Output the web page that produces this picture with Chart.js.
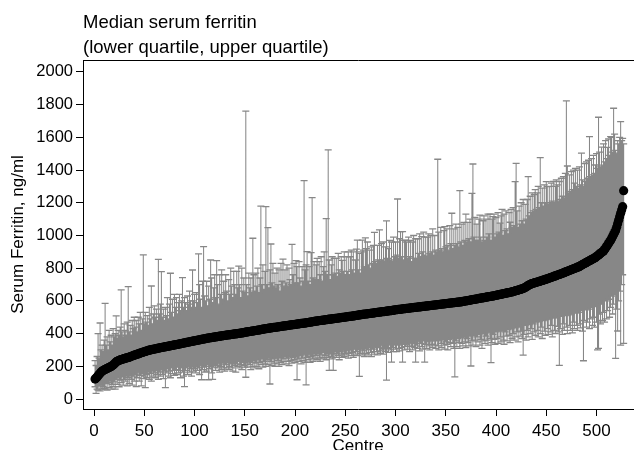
<!DOCTYPE html>
<html><head><meta charset="utf-8">
<script src="https://cdn.jsdelivr.net/npm/chart.js@4.4.1/dist/chart.umd.min.js"></script>
<style>html,body{margin:0;padding:0;background:#fff;}#wrap{width:638px;height:450px;}</style>
</head><body><div id="wrap"><canvas id="c" width="638" height="450"></canvas></div>
<script>
const titleLines = ['Median serum ferritin', '(lower quartile, upper quartile)'];
const xTitle = 'Centre';
const yTitle = 'Serum Ferritin, ng/ml';
const xTickValues = [0, 50, 100, 150, 200, 250, 300, 350, 400, 450, 500];
const yTickValues = [0, 200, 400, 600, 800, 1000, 1200, 1400, 1600, 1800, 2000];

const median = [
122,128,135,142,150,158,165,170,174,178,
181,184,187,190,193,196,199,203,208,214,
221,227,231,234,237,239,241,243,245,247,
249,251,252,254,256,258,261,263,266,268,
270,272,274,276,279,281,283,285,287,289,
291,293,295,297,299,300,302,303,304,306,
307,308,310,311,312,314,315,316,317,318,
320,321,322,323,324,326,327,328,329,331,
332,333,334,335,337,338,339,341,342,343,
344,346,347,348,349,351,352,353,355,356,
357,358,360,361,362,363,365,366,367,368,
369,371,372,373,374,375,376,377,378,379,
380,381,382,383,384,385,386,387,388,389,
390,391,392,392,393,394,395,396,397,398,
398,399,400,401,402,403,404,405,406,408,
409,410,411,412,413,414,415,416,417,418,
419,420,421,422,423,424,426,427,428,429,
430,431,432,433,434,435,436,437,438,439,
439,440,441,442,443,444,445,446,447,447,
448,449,450,451,452,453,454,455,455,456,
457,458,459,460,461,462,463,463,464,465,
466,467,468,469,470,471,472,473,474,476,
476,477,478,479,480,481,481,482,483,484,
485,486,487,488,488,489,490,491,492,493,
494,494,495,496,497,498,499,500,500,501,
502,503,504,505,506,506,507,508,509,510,
511,512,513,514,516,516,517,518,519,520,
520,521,522,523,524,524,525,526,527,528,
529,530,530,531,532,533,534,535,535,536,
537,538,539,540,540,541,542,543,544,546,
546,547,548,548,549,550,551,552,552,553,
554,555,555,556,557,558,558,559,560,561,
561,562,563,564,564,565,566,567,567,568,
569,570,570,571,572,573,573,574,575,576,
576,577,578,579,579,580,581,582,582,583,
584,585,585,586,587,588,588,589,590,591,
591,592,593,594,594,595,597,598,599,600,
601,602,603,604,606,607,608,609,610,611,
612,613,615,616,617,618,619,620,621,622,
624,625,626,627,628,629,630,631,633,634,
635,637,638,639,641,642,643,645,646,647,
649,650,651,653,654,655,657,659,661,663,
664,666,668,670,672,674,676,679,682,686,
690,694,698,701,704,706,708,710,712,714,
715,717,719,721,723,725,727,729,731,733,
735,737,740,742,744,746,749,751,753,755,
758,760,762,764,766,769,771,774,776,779,
781,784,786,789,791,793,796,798,801,803,
806,808,811,815,818,822,825,828,832,835,
839,842,846,849,852,856,859,862,866,871,
876,881,886,891,896,901,905,914,924,933,
942,951,961,970,982,994,1006,1018,1030,1051,
1072,1093,1114,1136,1156,1176,1274
];

const upperQ = [
235,205,260,400,250,465,300,330,290,360,
585,330,380,300,420,350,390,330,430,380,
400,508,370,420,390,440,667,410,380,460,
420,390,470,687,410,450,390,480,430,500,
440,480,410,500,460,530,420,490,881,460,
530,470,510,450,560,490,691,460,520,570,
500,550,480,854,520,580,779,500,550,480,
560,510,620,490,580,769,530,610,500,640,
560,620,520,590,640,540,600,742,560,620,
590,540,630,580,660,600,560,789,600,640,
560,650,590,887,700,610,560,720,932,630,
600,720,570,690,610,850,740,590,680,760,
620,846,700,580,760,640,790,610,720,650,
760,660,600,730,640,800,690,620,780,700,
640,780,680,813,700,620,800,660,740,650,
1761,700,630,770,680,740,650,983,760,660,
770,690,800,650,740,1180,700,820,670,780,
1176,700,1048,680,790,948,710,830,690,770,
680,800,700,790,660,830,720,856,690,790,
710,820,690,800,730,700,946,760,830,710,
846,810,710,840,740,690,810,720,1335,790,
820,901,720,810,700,895,1231,740,840,730,
820,860,730,840,760,870,720,810,900,780,
1103,760,1523,850,730,820,870,760,860,770,
860,750,890,790,770,870,848,780,900,760,
870,780,900,760,870,910,790,900,770,850,
916,972,790,890,770,900,972,910,810,985,
920,960,820,910,800,930,830,940,1019,840,
830,940,850,1034,840,950,850,960,840,930,
1089,860,920,970,850,960,840,990,870,960,
880,1223,860,980,1023,870,1023,850,970,972,
960,860,990,870,970,840,960,1000,860,980,
860,980,890,1010,870,993,900,1020,880,990,
870,990,1010,890,1000,900,1040,880,1000,910,
900,1466,1020,910,1050,920,900,1030,1054,930,
1040,940,910,1060,950,1136,920,1040,940,1070,
950,1050,930,1274,960,1070,940,1080,970,1131,
960,1080,980,1100,960,1258,1437,990,1110,970,
1070,970,1100,1125,990,960,1090,1120,970,1100,
990,1130,1010,1131,970,1100,1115,1130,990,1110,
1010,1140,1020,1075,1120,1160,1000,1130,1030,1150,
1040,1010,1140,1081,1160,1050,1170,1060,1329,1441,
1150,1050,1180,1070,1200,1090,1220,1070,1190,1100,
1220,1360,1120,1240,1140,1260,1150,1250,1280,1160,
1260,1300,1170,1476,1200,1290,1180,1310,1200,1329,
1299,1190,1300,1200,1320,1210,1330,1200,1300,1340,
1310,1210,1330,1220,1350,1240,1360,1230,1380,1823,
1425,1260,1370,1270,1390,1280,1400,1320,1410,1300,
1400,1290,1420,1310,1503,1340,1300,1440,1330,1450,
1350,1460,1604,1360,1470,1370,1490,1380,1431,1500,
1410,1723,1510,1420,1540,1430,1560,1450,1580,1470,
1539,1590,1490,1604,1600,1510,1778,1620,1520,1503,
1580,1560,1600,1696,1580,1594,1560
];

const lowerQ = [
75,35,60,55,80,50,85,60,75,65,
60,95,55,100,70,110,60,90,75,105,
60,120,90,130,75,115,100,135,85,120,
110,140,80,130,95,145,120,85,140,110,
150,76,130,160,110,145,80,155,125,140,
70,150,130,165,120,155,110,170,140,160,
130,175,150,120,165,140,180,150,125,170,
70,160,185,140,170,130,190,155,175,145,
180,150,195,160,175,130,190,165,140,76,
175,190,150,200,165,185,140,195,170,185,
160,200,175,190,150,205,118,180,195,165,
200,170,210,118,185,200,160,120,195,210,
175,205,190,215,165,200,180,220,190,170,
210,190,225,180,200,215,190,170,220,205,
165,215,200,230,190,210,180,225,205,195,
133,220,195,230,210,180,225,200,235,190,
220,200,240,185,225,210,245,195,230,215,
200,240,210,250,92,230,205,245,220,200,
250,215,235,200,255,225,210,245,230,260,
215,250,230,205,260,235,220,255,240,225,
260,118,245,230,265,215,250,235,270,225,
86,255,240,270,225,260,245,230,275,250,
265,240,280,250,230,270,255,285,245,265,
240,275,255,175,280,260,245,175,270,290,
255,280,265,240,290,270,255,295,260,280,
270,295,250,280,300,265,285,255,305,275,
290,265,300,139,280,305,270,295,260,310,
280,300,270,315,285,260,305,290,275,320,
290,270,315,295,280,325,300,275,310,290,
116,310,285,330,300,226,315,290,335,305,
290,330,310,295,340,315,226,335,300,320,
340,305,330,290,345,320,300,340,315,226,
330,310,350,295,340,320,305,355,226,335,
310,350,325,300,355,335,315,360,330,310,
355,325,300,360,340,315,365,330,305,350,
335,300,365,345,320,370,340,310,135,355,
320,370,345,310,375,340,325,380,350,315,
370,345,325,385,202,355,330,390,360,320,
380,350,395,330,365,310,400,355,340,385,
360,330,405,370,223,345,395,365,335,410,
370,340,415,380,350,420,360,335,410,385,
355,425,390,345,430,370,400,360,435,380,
410,350,440,385,415,370,269,395,450,360,
420,380,455,400,430,365,460,410,390,470,
420,380,475,400,440,370,480,415,390,485,
430,395,490,410,450,380,495,420,400,500,
445,410,206,430,505,395,460,420,510,440,
400,515,450,420,520,405,470,430,525,450,
420,530,460,435,540,415,234,480,545,440,
470,550,430,490,560,450,500,440,565,470,
300,310,520,460,580,480,530,470,600,490,
540,610,500,560,630,520,580,640,249,550,
416,600,660,330,700,760,340
];

const FONT = "'Liberation Sans', Arial, Helvetica, sans-serif";
const GRAY = '#878787';

const centres = median.map((_, i) => i + 1);
const whiskerPts = [];
centres.forEach((c, i) => {
  whiskerPts.push({x: c, y: lowerQ[i]}, {x: c, y: upperQ[i]}, {x: c, y: null});
});
const capPts = [];
centres.forEach((c, i) => { capPts.push({x: c, y: lowerQ[i]}, {x: c, y: upperQ[i]}); });
const medPts = centres.map((c, i) => ({x: c, y: median[i]}));

new Chart(document.getElementById('c').getContext('2d'), {
  type: 'scatter',
  data: { datasets: [
    { label: 'IQR', data: whiskerPts, showLine: true, spanGaps: false, borderColor: GRAY, borderWidth: 1.05,
      pointRadius: 0, pointHoverRadius: 0, order: 3 },
    { label: 'caps', data: capPts, showLine: false, pointStyle: 'line', pointRadius: 3.5, pointHoverRadius: 3.5,
      pointBorderColor: GRAY, pointBorderWidth: 1.3, pointBackgroundColor: GRAY, order: 2 },
    { label: 'Median', data: medPts, showLine: false, pointStyle: 'circle', pointRadius: 4.6, pointHoverRadius: 4.6,
      pointBackgroundColor: '#000', pointBorderColor: '#000', pointBorderWidth: 0, order: 1 }
  ]},
  options: {
    responsive: false, animation: false, events: [],
    layout: { padding: 0 },
    plugins: {
      legend: { display: false }, tooltip: { enabled: false },
      title: { display: true, text: titleLines, align: 'start', fullSize: false, color: '#000',
        font: { family: FONT, size: 18.5, weight: 'normal', lineHeight: 25/18.5 }, padding: { top: 10, bottom: 0 } }
    },
    scales: {
      x: { type: 'linear', position: 'bottom', min: -11, max: 536.5,
        afterBuildTicks: s => { s.ticks = xTickValues.map(v => ({ value: v })); },
        afterFit: s => { s.height = 41; },
        ticks: { color: '#000', font: { family: FONT, size: 17 }, padding: 5, maxRotation: 0, autoSkip: false,
          callback: v => String(v) },
        grid: { drawOnChartArea: false, drawTicks: true, tickLength: 7, tickColor: '#000', tickWidth: 1 },
        border: { display: true, color: '#000', width: 1 },
        title: { display: true, text: xTitle, color: '#000', font: { family: FONT, size: 17, lineHeight: 0.47 }, padding: 0 } },
      x2: { type: 'linear', position: 'top', min: -11, max: 536.5,
        ticks: { display: false }, grid: { display: false, drawTicks: false },
        border: { display: true, color: '#000', width: 1 },
        afterFit: s => { s.height = 0; } },
      y: { type: 'linear', position: 'left', min: -61, max: 2073,
        afterBuildTicks: s => { s.ticks = yTickValues.map(v => ({ value: v })); },
        afterFit: s => { s.width = 83; },
        ticks: { color: '#000', font: { family: FONT, size: 16.5 }, padding: 3, callback: v => String(v) },
        grid: { drawOnChartArea: false, drawTicks: true, tickLength: 7, tickColor: '#000', tickWidth: 1 },
        border: { display: true, color: '#000', width: 1 },
        title: { display: true, text: yTitle, color: '#000', font: { family: FONT, size: 17, lineHeight: 1.2 }, padding: { top: 8, bottom: 0 } } }
    }
  }
});
</script></body></html>
